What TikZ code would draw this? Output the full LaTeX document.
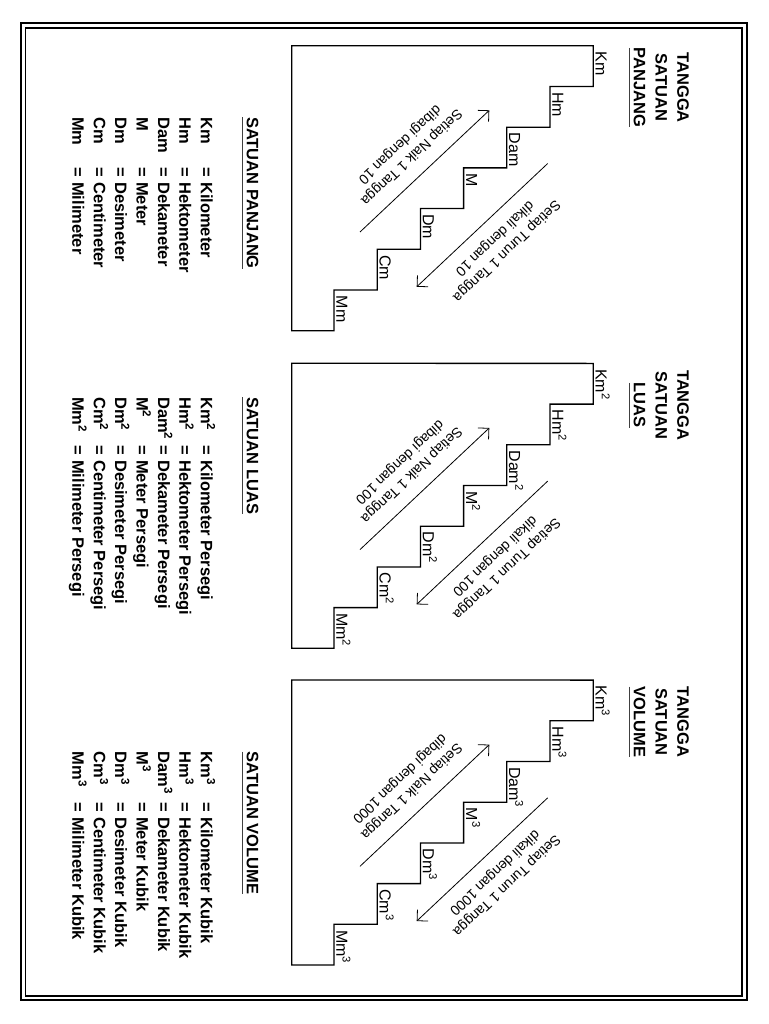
\documentclass[tikz,border=0pt]{standalone}
\usepackage{fontspec}
\setmainfont{Liberation Sans}
\usetikzlibrary{arrows.meta,positioning}

\newcommand\garis[1]{\setbox0\hbox{#1}\rlap{\color{black!75}\rule[-5.3pt]{\wd0}{1.3pt}}\box0}

\tikzset{
  tangga/.style={line width=1.3pt, line join=miter},
  lbl/.style={rotate=-90, anchor=base west, inner sep=0pt, font=\fontsize{16}{19}\selectfont},
  judul/.style={rotate=-90, anchor=north, inner sep=0pt, align=center, font=\bfseries\fontsize{16.5}{21.7}\selectfont},
  daftar/.style={rotate=-90, anchor=base west, inner sep=0pt, font=\bfseries\fontsize{16.5}{20}\selectfont},
  naik/.style={line width=0.8pt, {Straight Barb[length=7.8pt,width=15.6pt]}-},
  turun/.style={line width=0.8pt, -{Straight Barb[length=7.8pt,width=15.6pt]}},
  ket/.style={align=center, inner sep=0pt, font=\fontsize{14}{17.3}\selectfont},
}

\begin{document}
\begin{tikzpicture}[x=1pt, y=-1pt]
\useasboundingbox (0,0) rectangle (768,1024);
\draw[line width=1.8pt] (21,23) rectangle (747,1000);
\draw[line width=1.2pt] (25.5,28) rectangle (742,996);
\foreach \T/\s/\nm/\ti/\ky/\ys/\eq/\suf in {45.7/{}/PANJANG/10/0/117/50.7/{},
    363.3/{\textsuperscript{2}}/LUAS/100/1/397/48.7/{\ Persegi},
    680/{\textsuperscript{3}}/VOLUME/1000/2/751.5/51.2/{\ Kubik}} {
  % tangga
  \draw[tangga] (291.7,\T) -- (291.7,\T+285) -- (334,\T+285)
    \foreach \k in {1,...,6} { -- ++(0,-40.7) -- ++(43.2,0) } -- ++(0,-40.7) -- cycle;
  \foreach \u [count=\k from 0] in {Mm,Cm,Dm,M,Dam,Hm,Km}
    \node[lbl] (l\ky\u) at ({336.4+43.2*\k},{\T+285-40.7*(\k+1)+5.5}) {\u\s};
  \coordinate (na\ky) at (489.3,\T+64.6);
  \coordinate (nb\ky) at (360,\T+186.3);
  \coordinate (ta\ky) at (547.7,\T+117.8);
  \coordinate (tb\ky) at (416.7,\T+241.1);
  \draw[naik] (na\ky) -- (nb\ky) node[ket, midway, sloped, allow upside down, anchor=north, outer sep=13pt] (kn\ky) {Setiap Naik 1 Tangga\\dibagi dengan \ti};
  \draw[turun] (ta\ky) -- (tb\ky) node[ket, midway, sloped, allow upside down, anchor=south, outer sep=11.5pt] (kt\ky) {Setiap Turun 1 Tangga\\dikali dengan \ti};
  \node[judul] (jd\ky) at (689.1,\T+42) {TANGGA\\SATUAN\\\garis{\nm}};
  % daftar satuan
  \node[daftar] (hd\ky) at (246.8,\ys) {\garis{SATUAN \nm}};
  \foreach \a/\b [count=\j from 0] in {Km/Kilometer,Hm/Hektometer,Dam/Dekameter,M/Meter,Dm/Desimeter,Cm/Centimeter,Mm/Milimeter} {
    \node[daftar] (ab\ky\j) at ({200.8-21.4*\j},\ys) {\a\s};
    \node[daftar] (nm\ky\j) at ({200.8-21.4*\j},\ys+\eq) {= \b\suf};
  }
}
\end{tikzpicture}
\end{document}
